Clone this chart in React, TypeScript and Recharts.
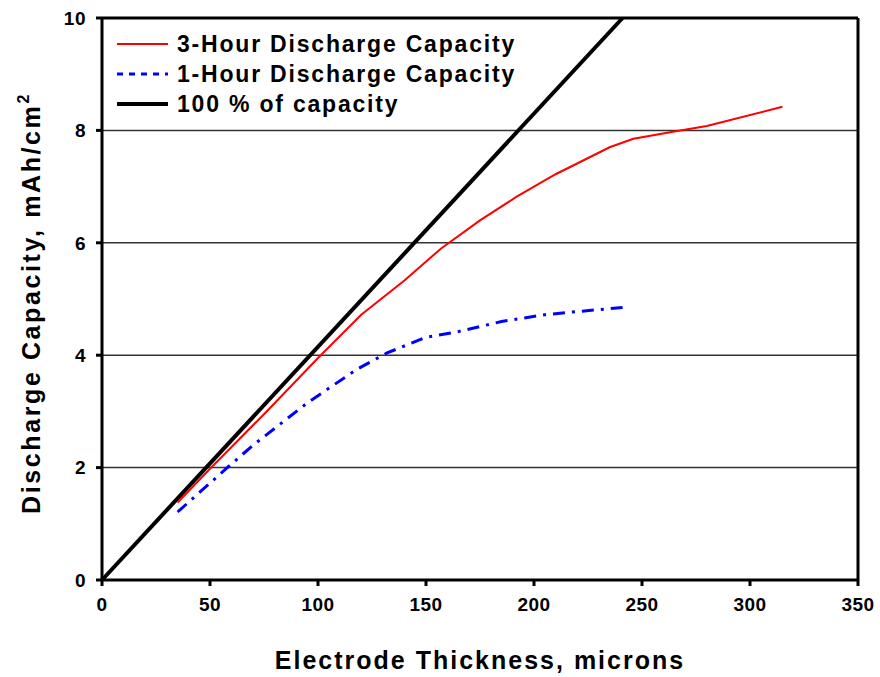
import { LineChart, Line, XAxis, YAxis, CartesianGrid, ReferenceLine } from "recharts";

// thickness (microns) vs capacity (mAh/cm2)
const threeHourX = [35, 50, 75, 100, 120, 140, 157, 175, 192, 210, 235, 246, 265, 280, 315];
const threeHourY = [1.38, 1.98, 2.95, 3.95, 4.72, 5.33, 5.9, 6.4, 6.82, 7.22, 7.7, 7.85, 7.98, 8.08, 8.42];

const oneHourX = [35, 58, 70, 95, 118, 132, 150, 165, 185, 205, 221, 241];
const oneHourY = [1.21, 2.0, 2.4, 3.15, 3.75, 4.04, 4.32, 4.42, 4.6, 4.72, 4.78, 4.85];

const fullX = [0, 241];
const fullY = [0, 10];

const xTicks = [0, 50, 100, 150, 200, 250, 300, 350];
const yTicks = [0, 2, 4, 6, 8, 10];

const zip = (xs: number[], ys: number[]) => xs.map((x, i) => ({ x, y: ys[i] }));

const threeHour = zip(threeHourX, threeHourY);
const oneHour = zip(oneHourX, oneHourY);
const full = zip(fullX, fullY);

const FONT = "'Liberation Sans', Arial, sans-serif";

const legendItems = [
  { name: "3-Hour Discharge Capacity", color: "#ff0000", width: 2, dash: undefined },
  { name: "1-Hour Discharge Capacity", color: "#0000ff", width: 3, dash: "6 6" },
  { name: "100 % of capacity", color: "#000000", width: 4, dash: undefined },
];

const LegendBox = () => (
  <div
    style={{
      position: "absolute",
      left: 115,
      top: 29,
      fontFamily: FONT,
      fontWeight: "bold",
      fontSize: 23,
      letterSpacing: 1.8,
    }}
  >
    {legendItems.map((item) => (
      <div key={item.name} style={{ display: "flex", alignItems: "center", height: 30 }}>
        <svg width={62} height={10}>
          <line x1={2} y1={5} x2={53} y2={5} stroke={item.color} strokeWidth={item.width} strokeDasharray={item.dash} />
        </svg>
        <span>{item.name}</span>
      </div>
    ))}
  </div>
);

const YTitle = (props: any) => {
  const { viewBox } = props;
  const cx = 40;
  const cy = viewBox.y + viewBox.height / 2 + 4;
  return (
    <text
      x={cx}
      y={cy}
      transform={`rotate(-90 ${cx} ${cy})`}
      textAnchor="middle"
      fontFamily={FONT}
      fontWeight="bold"
      fontSize={25}
      letterSpacing={2.6}
      fill="#000"
    >
      Discharge Capacity, mAh/cm<tspan fontSize={16} dy={-11}>2</tspan>
    </text>
  );
};

const tickStyle = { fill: "#000", fontFamily: FONT, fontWeight: "bold", fontSize: 19, letterSpacing: 0.5 };

export default function App() {
  return (
    <div style={{ position: "absolute", left: 0, top: 0, width: 880, height: 677, background: "#fff" }}>
      <LineChart width={880} height={677} margin={{ top: 18, right: 22, left: 0, bottom: 0 }}>
        <CartesianGrid vertical={false} stroke="#333" strokeWidth={1.5} />
        <XAxis
          type="number"
          dataKey="x"
          domain={[0, 350]}
          ticks={xTicks}
          height={97}
          stroke="#000"
          strokeWidth={3}
          tickSize={6}
          tickMargin={12}
          tick={tickStyle}
          label={{
            value: "Electrode Thickness, microns",
            position: "insideBottom",
            offset: 8,
            fill: "#000",
            fontFamily: FONT,
            fontWeight: "bold",
            fontSize: 25,
            letterSpacing: 2,
          }}
        />
        <YAxis
          type="number"
          dataKey="y"
          domain={[0, 10]}
          ticks={yTicks}
          width={102}
          stroke="#000"
          strokeWidth={3}
          tickSize={6}
          tickMargin={10}
          tick={tickStyle}
          label={<YTitle />}
        />
        <ReferenceLine y={10} stroke="#000" strokeWidth={3} />
        <ReferenceLine x={350} stroke="#000" strokeWidth={3} />
        <Line
          data={full}
          dataKey="y"
          name="100 % of capacity"
          stroke="#000"
          strokeWidth={4}
          dot={false}
          isAnimationActive={false}
        />
        <Line
          data={oneHour}
          dataKey="y"
          name="1-Hour Discharge Capacity"
          stroke="#0000ff"
          strokeWidth={3}
          strokeDasharray="12 7 3 7"
          dot={false}
          isAnimationActive={false}
        />
        <Line
          data={threeHour}
          dataKey="y"
          name="3-Hour Discharge Capacity"
          stroke="#ff0000"
          strokeWidth={2}
          dot={false}
          isAnimationActive={false}
        />
      </LineChart>
      <LegendBox />
    </div>
  );
}
